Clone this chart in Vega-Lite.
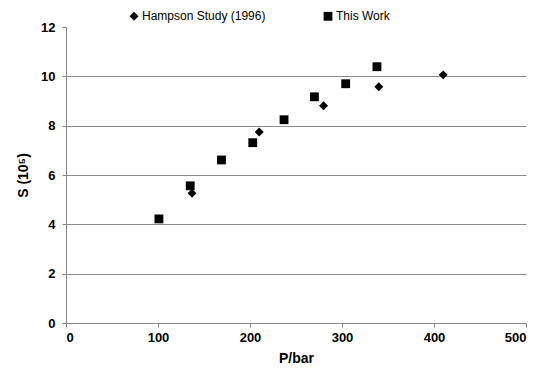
{
  "$schema": "https://vega.github.io/schema/vega-lite/v6.json",
  "width": 460,
  "height": 296,
  "autosize": {"type": "none"},
  "padding": {"left": 66, "top": 27, "right": 14, "bottom": 56},
  "background": "white",
  "config": {
    "view": {"stroke": null},
    "font": "Liberation Sans"
  },
  "data": {
    "values": [
      {"series": "This Work", "P": 101, "S": 4.22},
      {"series": "This Work", "P": 135, "S": 5.56},
      {"series": "This Work", "P": 169, "S": 6.61},
      {"series": "This Work", "P": 203, "S": 7.31},
      {"series": "This Work", "P": 237, "S": 8.24},
      {"series": "This Work", "P": 270, "S": 9.17},
      {"series": "This Work", "P": 304, "S": 9.7},
      {"series": "This Work", "P": 338, "S": 10.39},
      {"series": "Hampson Study (1996)", "P": 137, "S": 5.26},
      {"series": "Hampson Study (1996)", "P": 210, "S": 7.74},
      {"series": "Hampson Study (1996)", "P": 280, "S": 8.81},
      {"series": "Hampson Study (1996)", "P": 340, "S": 9.58},
      {"series": "Hampson Study (1996)", "P": 410, "S": 10.06}
    ]
  },
  "mark": {"type": "point", "filled": true, "opacity": 1, "color": "black"},
  "encoding": {
    "x": {
      "field": "P", "type": "quantitative",
      "scale": {"domain": [0, 500], "nice": false},
      "axis": {
        "title": "P/bar", "values": [0, 100, 200, 300, 400, 500],
        "grid": false, "domainColor": "#888", "tickColor": "#888", "tickSize": 4,
        "labelFontSize": 13, "labelFontWeight": "bold", "labelColor": "black", "labelPadding": 4,
        "titleFontSize": 14, "titleFontWeight": "bold", "titleColor": "black", "titlePadding": 7
      }
    },
    "y": {
      "field": "S", "type": "quantitative",
      "scale": {"domain": [0, 12], "nice": false},
      "axis": {
        "title": "S (10⁵)", "values": [0, 2, 4, 6, 8, 10, 12],
        "grid": true, "gridColor": "#8a8a8a", "gridWidth": 1,
        "gridOpacity": {"condition": {"test": "datum.value === 12 || datum.value === 0", "value": 0}, "value": 1},
        "domainColor": "#888", "tickColor": "#888", "tickSize": 4,
        "labelFontSize": 13, "labelFontWeight": "bold", "labelColor": "black", "labelPadding": 7,
        "titleFontSize": 14, "titleFontWeight": "bold", "titleColor": "black", "titlePadding": 10
      }
    },
    "shape": {
      "field": "series", "type": "nominal",
      "scale": {"domain": ["Hampson Study (1996)", "This Work"], "range": ["diamond", "square"]},
      "legend": {
        "title": null, "orient": "none", "direction": "horizontal", "columns": 2,
        "legendX": 62, "legendY": -17, "padding": 0, "columnPadding": 54,
        "labelFontSize": 12, "labelColor": "black", "symbolFillColor": "black", "symbolStrokeColor": "black",
        "symbolOpacity": 1, "labelOffset": 2
      }
    },
    "size": {
      "field": "series", "type": "nominal",
      "scale": {"domain": ["Hampson Study (1996)", "This Work"], "range": [80, 78]}
    }
  }
}
